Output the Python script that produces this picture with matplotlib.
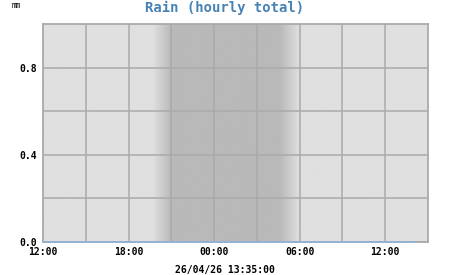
import numpy as np
import matplotlib
matplotlib.use("Agg")
from matplotlib import pyplot as plt

# hours since 12:00 on the first day
hours = list(range(0, 27))
rain_mm = [0.0] * len(hours)

tick_hours = [0, 6, 12, 18, 24]
tick_labels = ["12:00", "18:00", "00:00", "06:00", "12:00"]
grid_hours = [3, 9, 15, 21]
y_ticks = [0.0, 0.4, 0.8]
y_grid = [0.2, 0.6]

# twilight bands (hours since 12:00)
dusk_start, dusk_end = 7.7, 9.0
dawn_start, dawn_end = 16.6, 18.0

title = "Rain (hourly total)"
units = "mm"
stamp = "26/04/26 13:35:00"

light, dark = 0.875, 0.725
fg_grid = "#aaaaaa"

fig = plt.figure(figsize=(4.51, 2.75), dpi=100)
ax = fig.add_axes([43 / 451, 1 - 242 / 275, 385 / 451, 218 / 275])

# day/night background
xs = np.linspace(0, 27, 1000)
shade = np.interp(xs, [0, dusk_start, dusk_end, dawn_start, dawn_end, 27],
                  [light, light, dark, dark, light, light])
ax.imshow(shade[np.newaxis, :], extent=(0, 27, 0, 1), aspect="auto",
          cmap="gray", vmin=0, vmax=1, zorder=0, interpolation="bilinear")

ax.plot(hours, rain_mm, color="#8cb4d8", lw=1.2, zorder=3, clip_on=False)

ax.set_xlim(0, 27)
ax.set_ylim(0, 1.0)
ax.set_xticks(tick_hours)
ax.set_xticklabels(tick_labels)
ax.set_xticks(grid_hours, minor=True)
ax.set_yticks(y_ticks)
ax.set_yticklabels([f"{v:.1f}" for v in y_ticks])
ax.set_yticks(y_grid, minor=True)
ax.grid(True, which="both", color=fg_grid, lw=1.1, zorder=1)
ax.set_axisbelow(False)
ax.tick_params(which="both", length=0)
ax.tick_params(axis="x", pad=3.5)
ax.tick_params(axis="y", pad=4)
for lbl in ax.get_xticklabels() + ax.get_yticklabels():
    lbl.set_family("DejaVu Sans Mono")
    lbl.set_fontweight("bold")
    lbl.set_fontsize(7)
for sp in ax.spines.values():
    sp.set_color(fg_grid)
    sp.set_linewidth(1.3)

fig.text(225 / 451, 1 - 8 / 275, title, ha="center", va="center",
         family="DejaVu Sans Mono", fontweight="bold", fontsize=10,
         color="#4682b4")
fig.text(16 / 451, 1 - 5.5 / 275, units, ha="center", va="center",
         family="DejaVu Sans Mono", fontsize=5.5)
fig.text(225 / 451, 1 - 270 / 275, stamp, ha="center", va="center",
         family="DejaVu Sans Mono", fontweight="bold", fontsize=7)

fig.savefig("out.png", dpi=100)
